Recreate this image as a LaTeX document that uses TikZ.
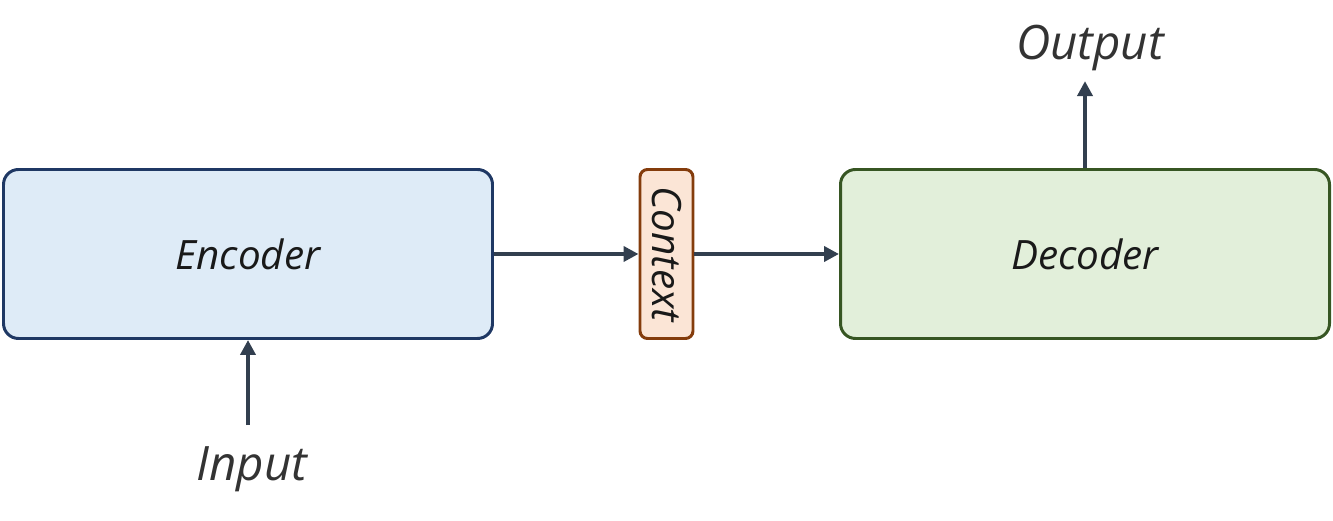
\documentclass[tikz,border=0pt]{standalone}
\usepackage{fontspec}
\setmainfont{Open Sans}
\usetikzlibrary{arrows.meta}
\definecolor{encfill}{HTML}{DEEBF7}
\definecolor{encline}{HTML}{1F3864}
\definecolor{ctxfill}{HTML}{FBE5D6}
\definecolor{ctxline}{HTML}{843C0C}
\definecolor{decfill}{HTML}{E2EFDA}
\definecolor{decline}{HTML}{375623}
\definecolor{arr}{HTML}{323F4F}
\definecolor{txt}{HTML}{333333}
\tikzset{
  block/.style={rectangle, rounded corners=0.3cm, line width=1.7pt,
    minimum height=3.38cm, font=\fontsize{23}{27}\selectfont\itshape, text=black!90},
  io/.style={font=\fontsize{27}{31}\selectfont\itshape, text=txt},
  flow/.style={-{Triangle[length=0.3cm,width=0.3cm]}, line width=2.6pt, draw=arr}
}
\begin{document}
\begin{tikzpicture}
    \useasboundingbox (0,0) rectangle (26.66,10.42);
    \node[block, draw=encline, fill=encfill, minimum width=9.78cm] (enc) at (4.96,5.34) {Encoder};
    \node[block, draw=ctxline, fill=ctxfill, minimum width=1.06cm, rounded corners=0.15cm] (ctx) at (13.33,5.34) {};
    \node[font=\fontsize{23}{27}\selectfont\itshape, text=black!90, rotate=-90] (ctxl) at (ctx.center) {Context};
    \node[block, draw=decline, fill=decfill, minimum width=9.78cm] (dec) at (21.7,5.34) {Decoder};
    \node[io] (in) at (5.04,1.04) {Input};
    \node[io] (out) at (21.8,9.46) {Output};
    \draw[flow] (enc) -- (ctx);
    \draw[flow] (ctx) -- (dec);
    \draw[flow, shorten <=0.3cm] (enc.south |- in.north) -- (enc.south);
    \draw[flow] (dec.north) -- ([yshift=-0.08cm]dec.north |- out.south);
\end{tikzpicture}
\end{document}
